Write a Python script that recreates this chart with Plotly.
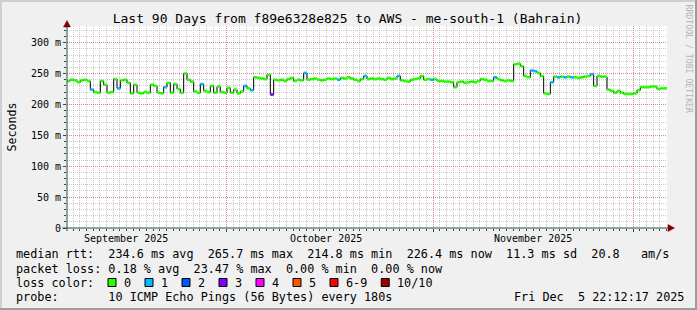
import plotly.graph_objects as go
import pandas as pd

# ---------------- data ----------------
start_time = "2025-09-07 02:12"
step_hours = 12

median_ms = [
    238, 240, 239, 236, 239, 240, 238, 224, 220, 219,
    238, 232, 219, 220, 241, 226, 239, 240, 235, 218,
    232, 219, 218, 220, 219, 232, 230, 219, 218, 228,
    235, 219, 233, 225, 219, 250, 240, 237, 221, 219,
    233, 222, 220, 230, 219, 229, 220, 219, 227, 219,
    224, 218, 221, 230, 226, 223, 244, 243, 242, 241,
    248, 216, 240, 239, 240, 238, 241, 243, 238, 240,
    239, 251, 240, 241, 242, 240, 239, 240, 242, 241,
    242, 240, 243, 242, 244, 242, 240, 238, 241, 246,
    241, 242, 241, 242, 241, 240, 243, 241, 242, 246,
    239, 238, 237, 240, 241, 242, 246, 240, 241, 240,
    241, 238, 238, 237, 237, 236, 228, 236, 237, 235,
    236, 237, 236, 238, 241, 240, 238, 238, 244, 241,
    239, 238, 239, 238, 265, 266, 262, 246, 244, 255,
    254, 251, 246, 218, 217, 236, 245, 244, 245, 244,
    245, 244, 244, 243, 244, 245, 246, 249, 230, 246,
    245, 245, 224, 222, 219, 222, 219, 217, 217, 217,
    218, 223, 228, 228, 228, 229, 229, 225, 226, 226,
]

loss_class = [
    0, 0, 0, 0, 0, 0, 0, 1, 0, 0,
    0, 0, 0, 0, 0, 1, 0, 0, 0, 0,
    0, 0, 0, 0, 0, 0, 0, 0, 0, 1,
    0, 0, 0, 0, 0, 0, 0, 0, 0, 0,
    1, 0, 0, 0, 0, 0, 0, 0, 0, 0,
    0, 0, 0, 1, 0, 1, 0, 0, 0, 0,
    0, 3, 0, 0, 0, 0, 0, 0, 0, 0,
    0, 1, 0, 0, 0, 0, 0, 0, 0, 0,
    0, 1, 0, 0, 0, 0, 0, 0, 0, 1,
    0, 0, 0, 0, 0, 0, 0, 0, 0, 1,
    0, 0, 0, 0, 0, 0, 0, 0, 0, 1,
    0, 0, 0, 0, 0, 0, 0, 0, 0, 0,
    0, 0, 0, 0, 0, 0, 0, 0, 1, 0,
    0, 0, 0, 0, 0, 0, 0, 0, 0, 1,
    1, 0, 0, 0, 0, 1, 0, 1, 0, 1,
    0, 1, 0, 0, 0, 0, 0, 1, 0, 0,
    0, 0, 0, 0, 0, 0, 0, 0, 0, 0,
    0, 0, 0, 0, 0, 0, 0, 0, 0, 0,
]

loss_colors = ["#26ff00", "#00b8ff", "#0059ff", "#7e00ff",
               "#ff00ff", "#ff5500", "#ff0000", "#a10000"]
loss_labels = ["0", "1", "2", "3", "4", "5", "6-9", "10/10"]

month_starts = ["2025-10-01", "2025-11-01", "2025-12-01"]
month_label_dates = ["2025-09-16", "2025-10-16", "2025-11-16"]
month_labels = ["September 2025", "October 2025", "November 2025"]

y_tickvals = [0, 50, 100, 150, 200, 250, 300]
y_ticktext = ["0", "50 m", "100 m", "150 m", "200 m", "250 m", "300 m"]
y_max = 327

title_text = "Last 90 Days from f89e6328e825 to AWS - me-south-1 (Bahrain)"
line_rtt = "median rtt:  234.6 ms avg  265.7 ms max  214.8 ms min  226.4 ms now  11.3 ms sd  20.8   am/s"
line_loss = "packet loss: 0.18 % avg  23.47 % max  0.00 % min  0.00 % now"
line_color = "loss color:"
line_probe = "probe:       10 ICMP Echo Pings (56 Bytes) every 180s"
line_date = "Fri Dec  5 22:12:17 2025"
watermark = "RRDTOOL / TOBI OETIKER"

# ---------------- geometry ----------------
W, H = 697, 310
ML, MR, MT, MB = 67, 30, 26, 82
PW, PH = W - ML - MR, H - MT - MB
FONT = "DejaVu Sans Mono"


def px(x):
    return (x - ML) / PW


def py(y):
    return (H - MB - y) / PH


def nb(s):
    return s.replace(" ", "\u00a0")


n = len(median_ms)
times = pd.date_range(start_time, periods=n + 1, freq=f"{step_hours}h")
x_end = pd.Timestamp(start_time) + pd.Timedelta(days=90)

fig = go.Figure()

# black step line (median)
fig.add_trace(go.Scatter(
    x=list(times), y=median_ms + [median_ms[-1]],
    mode="lines", line=dict(color="#000000", width=1, shape="hv"),
    hoverinfo="skip", showlegend=False))

# colored loss segments
for c, col in enumerate(loss_colors):
    xs, ys = [], []
    for i in range(n):
        if loss_class[i] == c:
            xs += [times[i], times[i + 1], None]
            ys += [median_ms[i], median_ms[i], None]
    if xs:
        fig.add_trace(go.Scatter(
            x=xs, y=ys, mode="lines", line=dict(color=col, width=2.6),
            hoverinfo="skip", showlegend=False))

MINOR_GRID = "rgba(143,143,143,0.45)"
MAJOR_GRID = "rgba(222,80,80,0.55)"
AXIS_COL = "#2C4D43"

fig.update_xaxes(
    type="date", range=[pd.Timestamp(start_time), x_end],
    tickmode="array", tickvals=month_starts, showticklabels=False,
    showgrid=True, gridcolor=MAJOR_GRID, griddash="1px,1px", gridwidth=1,
    ticks="outside", ticklen=3, tickcolor=AXIS_COL,
    minor=dict(dtick=86400000, tick0="2025-09-01", showgrid=True,
               gridcolor=MINOR_GRID, griddash="1px,1px",
               ticks="outside", ticklen=2, tickcolor=AXIS_COL),
    showline=False, zeroline=False, fixedrange=True,
)
fig.update_yaxes(
    range=[0, y_max], tickmode="array", tickvals=y_tickvals, ticktext=y_ticktext,
    tickfont=dict(family=FONT, size=10, color="#000000"),
    showgrid=True, gridcolor=MAJOR_GRID, griddash="1px,1px",
    ticks="outside", ticklen=3, tickcolor=AXIS_COL,
    minor=dict(dtick=10, showgrid=True, gridcolor=MINOR_GRID, griddash="1px,1px",
               ticks="outside", ticklen=2, tickcolor=AXIS_COL),
    showline=False, zeroline=False, fixedrange=True,
)

shapes = []
# frame shading
shapes.append(dict(type="rect", xref="paper", yref="paper", x0=px(0), x1=px(W), y0=py(0), y1=py(2),
                   fillcolor="#CFCFCF", line=dict(width=0), layer="above"))
shapes.append(dict(type="rect", xref="paper", yref="paper", x0=px(0), x1=px(2), y0=py(0), y1=py(H),
                   fillcolor="#CFCFCF", line=dict(width=0), layer="above"))
shapes.append(dict(type="rect", xref="paper", yref="paper", x0=px(0), x1=px(W), y0=py(H - 2), y1=py(H),
                   fillcolor="#9E9E9E", line=dict(width=0), layer="above"))
shapes.append(dict(type="rect", xref="paper", yref="paper", x0=px(W - 2), x1=px(W), y0=py(0), y1=py(H),
                   fillcolor="#9E9E9E", line=dict(width=0), layer="above"))
# axis lines
shapes.append(dict(type="line", xref="paper", yref="paper", x0=px(62.5), x1=px(669), y0=0, y1=0,
                   line=dict(color=AXIS_COL, width=1), layer="above"))
shapes.append(dict(type="line", xref="paper", yref="paper", x0=0, x1=0, y0=py(H - MB + 3), y1=py(23),
                   line=dict(color=AXIS_COL, width=1), layer="above"))
# arrows
shapes.append(dict(type="path", xref="paper", yref="paper",
                   path=f"M {px(63.5)},{py(27)} L {px(70.5)},{py(27)} L {px(67)},{py(20.5)} Z",
                   fillcolor="#7F0000", line=dict(color="#7F0000", width=0.5), layer="above"))
shapes.append(dict(type="path", xref="paper", yref="paper",
                   path=f"M {px(668)},{py(224.5)} L {px(668)},{py(231.5)} L {px(674.5)},{py(228)} Z",
                   fillcolor="#7F0000", line=dict(color="#7F0000", width=0.5), layer="above"))

annotations = []
# month labels
for d, lab in zip(month_label_dates, month_labels):
    annotations.append(dict(x=d, y=py(238), xref="x", yref="paper", text=nb(lab),
                            showarrow=False, xanchor="center", yanchor="middle",
                            font=dict(family=FONT, size=10, color="#000000")))

LEG = dict(family=FONT, size=11.8, color="#000000")


def text_at(x, y, s, font=LEG, **kw):
    annotations.append(dict(x=px(x), y=py(y), xref="paper", yref="paper", text=nb(s),
                            showarrow=False, xanchor="left", yanchor="middle",
                            borderpad=0, font=font, **kw))


text_at(15, 254.5, line_rtt)
text_at(15, 268.5, line_loss)
text_at(15, 282.5, line_color)
text_at(15, 296.5, line_probe)
text_at(513, 296.5, line_date)

# loss colour boxes
bx = 108.0
for col, lab in zip(loss_colors, loss_labels):
    shapes.append(dict(type="rect", xref="paper", yref="paper",
                       x0=px(bx), x1=px(bx + 8), y0=py(286.5), y1=py(278.5),
                       fillcolor=col, line=dict(color="#000000", width=1), layer="above"))
    text_at(bx + 14.5, 282.5, lab)
    bx += 37 + 7.12 * (len(lab) - 1)

# y title
annotations.append(dict(x=px(11), y=py(127.5), xref="paper", yref="paper", text="Seconds",
                        textangle=-90, showarrow=False, xanchor="center", yanchor="middle",
                        font=dict(family=FONT, size=11.6, color="#000000")))
# watermark
annotations.append(dict(x=px(688.5), y=py(59), xref="paper", yref="paper", text=nb(watermark),
                        textangle=90, showarrow=False, xanchor="center", yanchor="middle",
                        font=dict(family=FONT, size=8.2, color="#b5b5b5")))

fig.update_layout(
    width=W, height=H,
    margin=dict(l=ML, r=MR, t=MT, b=MB, pad=0),
    paper_bgcolor="#F0F0F0", plot_bgcolor="#FFFFFF",
    title=dict(text=nb(title_text), x=347.5 / W, xanchor="center",
               y=1 - 18.5 / H, yanchor="middle", yref="container",
               font=dict(family=FONT, size=13, color="#000000")),
    shapes=shapes, annotations=annotations, showlegend=False,
)

fig.write_html("out.html", config={"displayModeBar": False, "staticPlot": True})
